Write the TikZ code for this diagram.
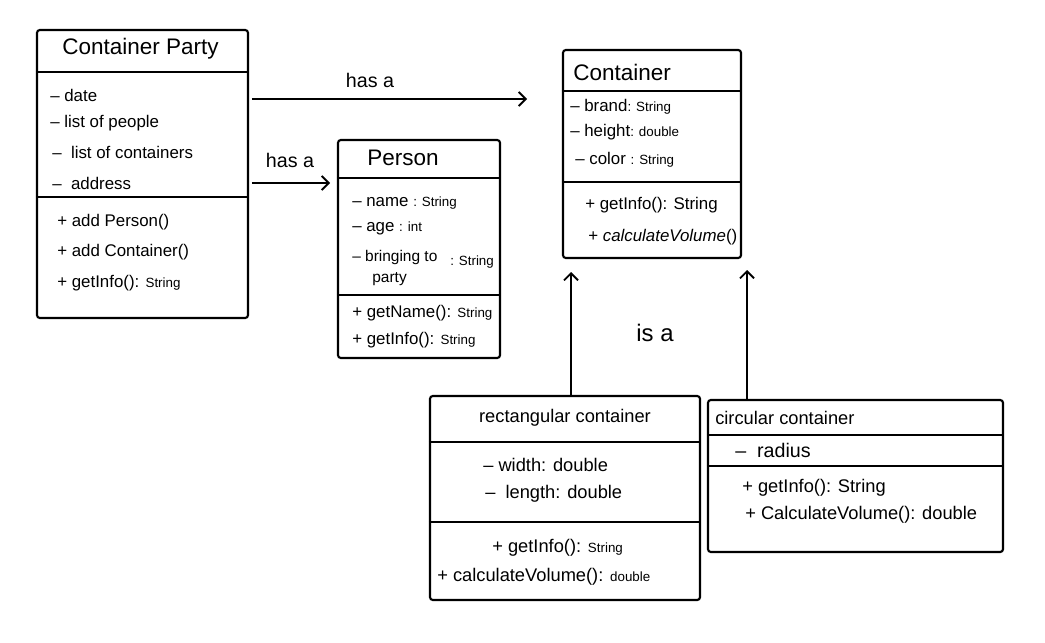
\documentclass[tikz,border=0pt]{standalone}
\usepackage{fontspec}
\setmainfont{Liberation Sans}
\usetikzlibrary{fit,arrows.meta}
\tikzstyle{box}=[draw=black, line width=1.5pt, inner sep=0pt, rounded corners=2pt]
\tikzstyle{divider}=[line width=1.3pt]
\tikzstyle{title}=[anchor=west, inner sep=0pt, font=\fontsize{16}{18}\selectfont]
\tikzstyle{member}=[anchor=west, inner sep=0pt, font=\fontsize{12}{14}\selectfont]
\tikzstyle{bigmember}=[anchor=west, inner sep=0pt, font=\fontsize{13}{15}\selectfont]
\tikzstyle{link}=[line width=1.3pt, -{Straight Barb[length=5pt,width=10pt]}]
\tikzstyle{linklabel}=[inner sep=0pt, font=\fontsize{14}{16}\selectfont]
\newcommand{\ty}[1]{{\fontsize{9.5}{11}\selectfont #1}}

\begin{document}
\begin{tikzpicture}[x=0.025cm, y=-0.025cm]
            \useasboundingbox (0,0) rectangle (1045,643);
            % Container Party
            \node[box, fit={(37,30) (248,318)}] (party) {};
            \draw[divider] (party.west |- 0,72) -- (party.east |- 0,72);
            \draw[divider] (party.west |- 0,197) -- (party.east |- 0,197);
            \node[title] (party-name) at (62,49) {Container Party};
            \node[member] (party-a1) at (50,95) {-- date};
            \node[member] (party-a2) at (50,123) {-- list of people};
            \node[member] (party-a3) at (52,152) {--\ \ list of containers};
            \node[member] (party-a4) at (52,183) {--\ \ address};
            \node[member] (party-m1) at (57,222) {+ add Person()};
            \node[member] (party-m2) at (57,252) {+ add Container()};
            \node[member] (party-m3) at (57,283) {+ getInfo(): \ty{String}};
            % Person
            \node[box, fit={(338,140) (500,358)}] (person) {};
            \draw[divider] (person.west |- 0,178) -- (person.east |- 0,178);
            \draw[divider] (person.west |- 0,295) -- (person.east |- 0,295);
            \node[title] (person-name) at (367,158) {Person};
            \node[member] (person-a1) at (352,203) {-- name \ty{: String}};
            \node[member] (person-a2) at (352,228) {-- age \ty{: int}};
            \node[member, align=left, font=\fontsize{11}{15}\selectfont] (person-a3) at (352,268) {-- bringing to\\\hspace{1.3em}party};
            \node[member] (person-a3t) at (450,262) {\ty{: String}};
            \node[member] (person-m1) at (352,313) {+ getName(): \ty{String}};
            \node[member] (person-m2) at (352,340) {+ getInfo(): \ty{String}};
            % Container
            \node[box, fit={(563,50) (741,258)}] (container) {};
            \draw[divider] (container.west |- 0,91) -- (container.east |- 0,91);
            \draw[divider] (container.west |- 0,182) -- (container.east |- 0,182);
            \node[title] (container-name) at (573,72) {Container};
            \node[member] (container-a1) at (570,107) {-- brand\ty{: String}};
            \node[member] (container-a2) at (570,132) {-- height\ty{: double}};
            \node[member] (container-a3) at (575,160) {-- color \ty{: String}};
            \node[member] (container-m1) at (585,205) {+ getInfo(): String};
            \node[member] (container-m2) at (588,237) {+ \textit{calculateVolume}()};
            % rectangular container
            \node[box, fit={(430,396) (700,600)}] (rect) {};
            \draw[divider] (rect.west |- 0,442) -- (rect.east |- 0,442);
            \draw[divider] (rect.west |- 0,522) -- (rect.east |- 0,522);
            \node[title, anchor=center, font=\fontsize{13}{15}\selectfont] (rect-name) at (565,418) {rectangular container};
            \node[bigmember] (rect-a1) at (483,465) {-- width: double};
            \node[bigmember] (rect-a2) at (485,494) {--\ \ length: double};
            \node[bigmember] (rect-m1) at (492,548) {+ getInfo(): \ty{String}};
            \node[bigmember] (rect-m2) at (437,577) {+ calculateVolume(): \ty{double}};
            % circular container
            \node[box, fit={(708,400) (1003,552)}] (circ) {};
            \draw[divider] (circ.west |- 0,435) -- (circ.east |- 0,435);
            \draw[divider] (circ.west |- 0,466) -- (circ.east |- 0,466);
            \node[title, font=\fontsize{13}{15}\selectfont] (circ-name) at (715,418) {circular container};
            \node[bigmember, font=\fontsize{14}{16}\selectfont] (circ-a1) at (735,450) {--\ \ radius};
            \node[bigmember] (circ-m1) at (742,488) {+ getInfo(): String};
            \node[bigmember] (circ-m2) at (745,515) {+ CalculateVolume(): double};
            % links
            \coordinate (hasa1-end) at (527,99);
            \coordinate (hasa2-end) at (330,183);
            \coordinate (isa1-end) at (571,272);
            \coordinate (isa2-end) at (747,270);
            \draw[link] ([xshift=2pt]party.east |- hasa1-end) -- (hasa1-end);
            \draw[link] ([xshift=2pt]party.east |- hasa2-end) -- (hasa2-end);
            \draw[link] (rect.north -| isa1-end) -- (isa1-end);
            \draw[link] (circ.north -| isa2-end) -- (isa2-end);
            \node[linklabel] (hasa1-label) at (370,80) {has a};
            \node[linklabel] (hasa2-label) at (290,160) {has a};
            \node[linklabel, font=\fontsize{17}{19}\selectfont] (isa-label) at (655,333) {is a};
        \end{tikzpicture}
\end{document}
